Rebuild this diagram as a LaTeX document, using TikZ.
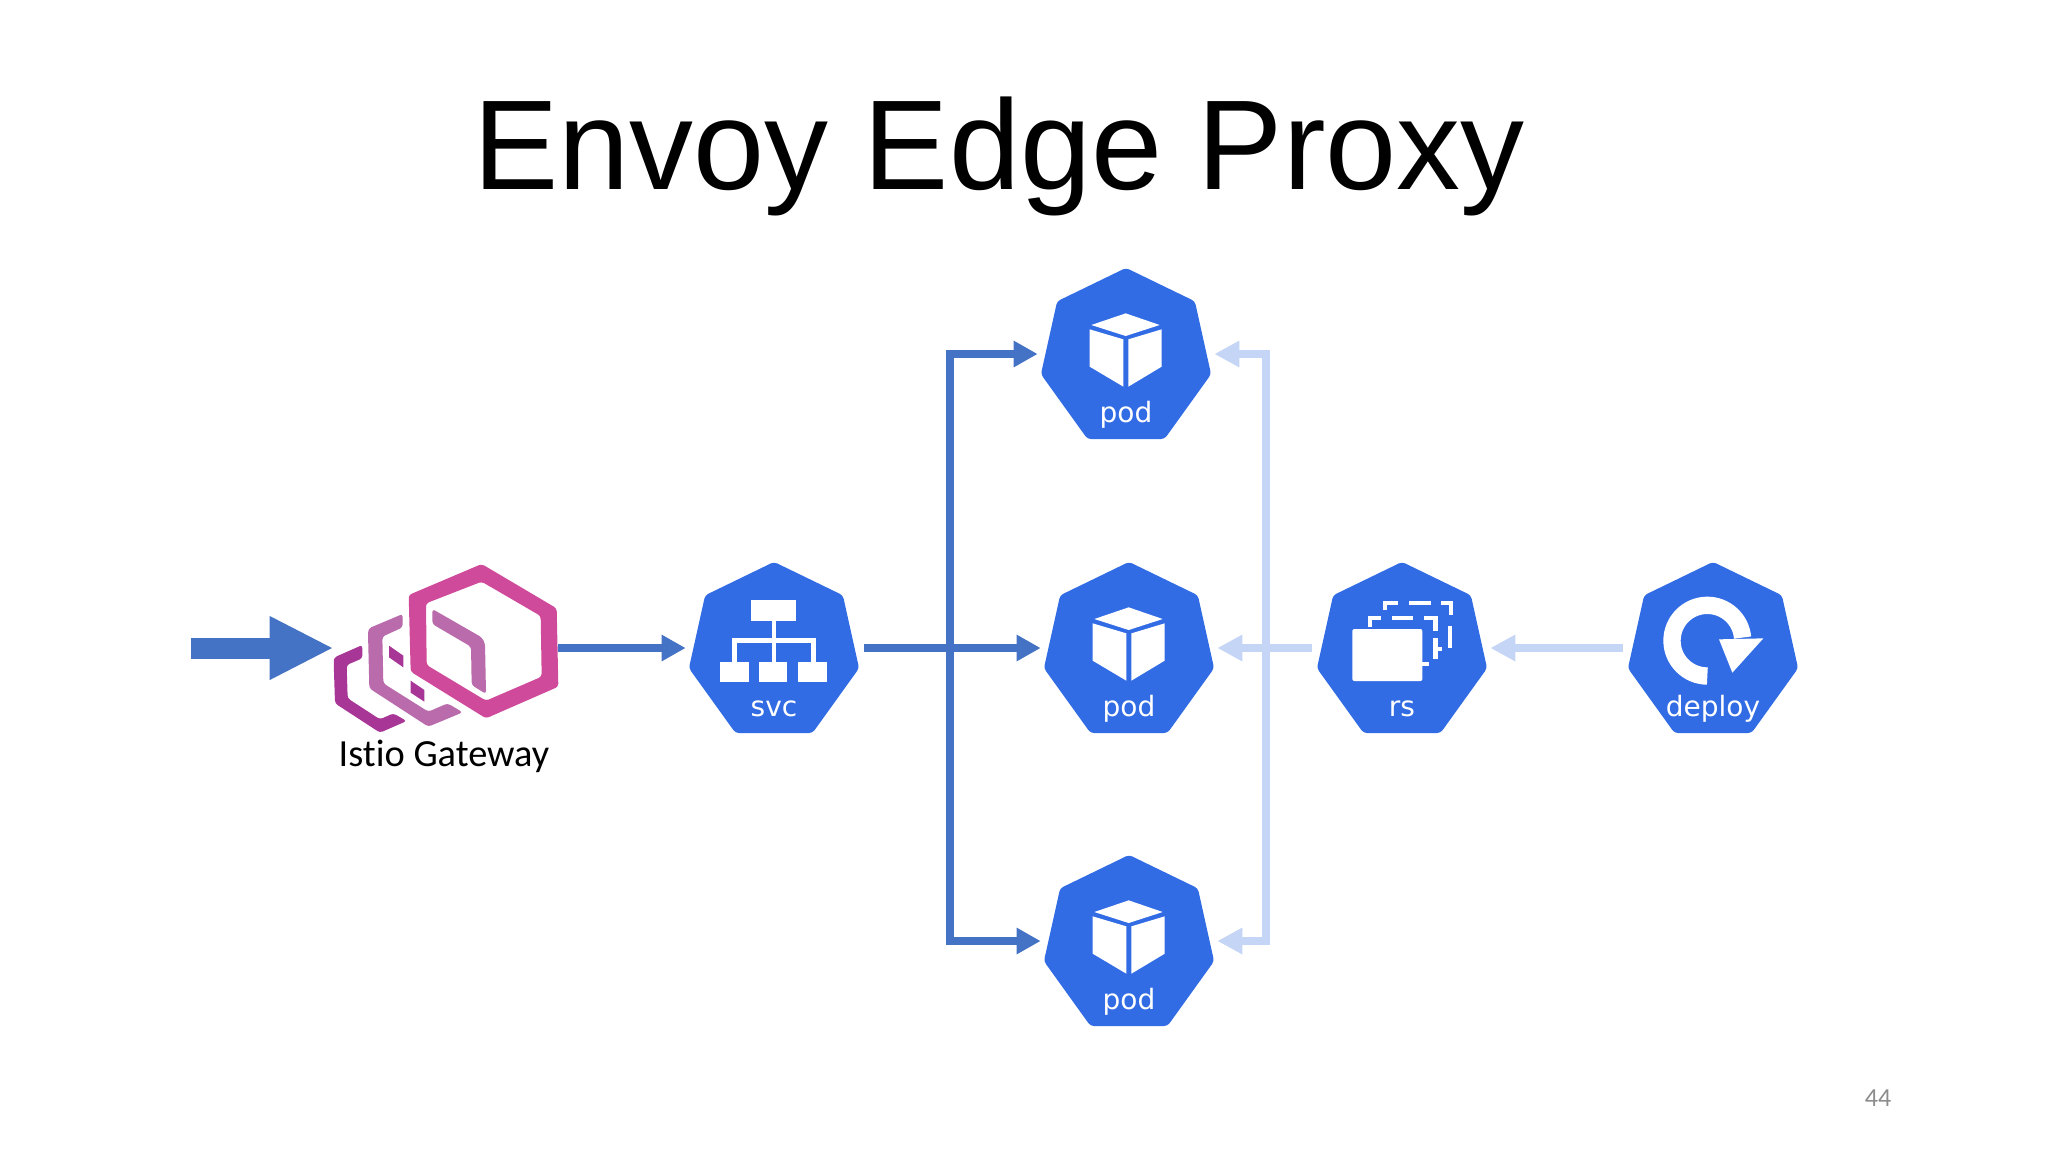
\documentclass[tikz,border=0pt]{standalone}
\usepackage{fontspec}
\setmainfont{Liberation Sans}
\newfontfamily\calibrilike[Ligatures=NoCommon]{Carlito}
\newfontfamily\kubefont{DejaVu Sans}
\usetikzlibrary{arrows.meta}
\definecolor{kubeblue}{HTML}{326CE5}
\definecolor{arrowblue}{HTML}{4472C4}
\definecolor{paleblue}{HTML}{C5D5F5}
\definecolor{envoyfront}{HTML}{CF4A9B}
\definecolor{envoymid}{HTML}{B96BAB}
\definecolor{envoyback}{HTML}{A83696}
\tikzset{
  hept/.style={fill=kubeblue,draw=kubeblue,line width=1pt,rounded corners=1.5pt},
  kubebox/.style={rectangle,minimum width=90pt,minimum height=85pt,inner sep=0pt},
  kubelabel/.style={text=white,font=\kubefont\fontsize{14pt}{16pt}\selectfont,anchor=base,inner sep=0pt},
  darkarrow/.style={draw=arrowblue,line width=4pt,shorten >=-1pt,-{Triangle[length=12pt,width=12.5pt]}},
  palearrow/.style={draw=paleblue,line width=4pt,shorten >=-1pt,-{Triangle[length=12.5pt,width=12.5pt]}},
  zoomed/.style={x=0.16667pt,y=-0.16667pt},
  iconline/.style={draw=white,line width=2.15pt},
}
\newcommand{\kubeicon}[5]{%
  \begin{scope}[shift={(#2,#3)}]
    \path[hept] (0,-85)--(68,-52)--(84,20)--(38,84)--(-38,84)--(-84,20)--(-68,-52)--cycle;
    \node[kubebox] (#1) at (0,0) {};
    \node[kubelabel] (#1-label) at (0,68) {#4};
    #5
  \end{scope}}
\newcommand{\cubeicon}{%
  \begin{scope}[zoomed,shift={(-291,-312)}]
    \fill[white] (290,190)--(392,225)--(290,258)--(187,225)--cycle;
    \fill[white] (182,238)--(283,268)--(283,410)--(182,350)--cycle;
    \fill[white] (298,268)--(398,238)--(398,350)--(298,410)--cycle;
  \end{scope}}
\newcommand{\svcicon}{%
  \begin{scope}[zoomed,shift={(-312,-294)}]
    \fill[white] (242,150) rectangle (378,212);
    \fill[white] (305,212) rectangle (319,335);
    \fill[white] (187,265) rectangle (437,280);
    \fill[white] (187,265) rectangle (200,335);
    \fill[white] (423,265) rectangle (437,335);
    \fill[white] (150,335) rectangle (236,397);
    \fill[white] (268,335) rectangle (352,397);
    \fill[white] (385,335) rectangle (470,397);
  \end{scope}}
\newcommand{\rsicon}{%
  \begin{scope}[zoomed,shift={(-306,-294)}]
    \fill[white,rounded corners=1pt] (157,237) rectangle (367,393);
    \draw[iconline] (255,180)--(255,158)--(295,158);
    \draw[iconline] (328,158)--(392,158);
    \draw[iconline] (423,158)--(452,158)--(452,195);
    \draw[iconline] (450,228)--(450,293);
    \draw[iconline] (210,232)--(210,203)--(243,203);
    \draw[iconline] (277,203)--(338,203);
    \draw[iconline] (372,203)--(406,203)--(406,242);
    \draw[iconline] (406,265)--(406,328);
    \draw[iconline] (406,297)--(425,297);
    \draw[iconline] (367,343)--(386,343);
  \end{scope}}
\newcommand{\deployicon}{%
  \draw[draw=white,line width=8.67pt] (-5.67,28) arc[start angle=-90,end angle=-355,radius=17.67pt];
  \begin{scope}[zoomed,shift={(-1239,-294)}]
    \fill[white] (1257,268)--(1390,265)--(1297,368)--cycle;
  \end{scope}}
\begin{document}
\begin{tikzpicture}[x=0.5pt,y=-0.5pt]
  \useasboundingbox (0,0) rectangle (2048,1152);
  \fill[white] (0,0) rectangle (2048,1152);

  \node[font=\fontsize{63.9pt}{70pt}\selectfont,anchor=base,inner sep=0pt] (title) at (999,189) {Envoy Edge Proxy};
  \node[font=\calibrilike\fontsize{13pt}{15pt}\selectfont,text=black!45,inner sep=0pt] (pagenum) at (1878,1098) {44};

  % Envoy logo
  \begin{scope}[shift={(170,540)},zoomed,rounded corners=1.5pt]
    \fill[envoyback] (577,315)--(493,352)--(491,365)--(495,490)--(630,578)--(710,543)--(670,520)--(630,538)--(533,475)--(530,375)--(577,355)--cycle;
    \fill[envoymid] (698,222)--(596,265)--(594,280)--(598,445)--(775,560)--(878,517)--(833,490)--(775,515)--(640,430)--(637,290)--(698,262)--cycle;
    \fill[envoyback,rounded corners=0pt] (657,317)--(700,347)--(700,382)--(657,352)--cycle;
    \fill[envoyback,rounded corners=0pt] (722,422)--(763,450)--(763,485)--(722,458)--cycle;
    \fill[envoyfront,even odd rule] (935,72)--(1160,205)--(1165,440)--(948,535)--(722,395)--(716,165)--cycle
       (935,125)--(1112,228)--(1115,410)--(948,482)--(770,375)--(768,190)--cycle;
    \fill[envoymid] (787,207)--(935,292)--(945,310)--(948,462)--(905,435)--(903,320)--(787,252)--cycle;
  \end{scope}
  \node[inner sep=0pt,minimum width=113pt,minimum height=60pt] (gateway) at (445,648) {};
  \node[font=\calibrilike\fontsize{19.2pt}{21pt}\selectfont,anchor=base,inner sep=0pt] (gatewaylabel) at (444,766) {Istio Gateway};

  \kubeicon{svc}{774}{648}{svc}{\svcicon}
  \kubeicon{pod1}{1126}{354}{pod}{\cubeicon}
  \kubeicon{pod2}{1129}{648}{pod}{\cubeicon}
  \kubeicon{pod3}{1129}{941}{pod}{\cubeicon}
  \kubeicon{rs}{1402}{648}{rs}{\rsicon}
  \kubeicon{deploy}{1713}{648}{deploy}{\deployicon}

  \coordinate (inlet) at (191,648);
  \coordinate (darktrunk) at (950,648);
  \coordinate (paletrunk) at (1266,648);

  \draw[draw=arrowblue,line width=10.5pt,shorten >=-1pt,-{Triangle[length=32pt,width=29.5pt]}] (inlet) -- (gateway.west);
  \draw[darkarrow] (gateway.east) -- (svc.west);
  \draw[darkarrow] (svc.east) -- (pod2.west);
  \draw[darkarrow] (darktrunk) |- (pod1.west);
  \draw[darkarrow] (darktrunk) |- (pod3.west);
  \draw[palearrow] (deploy.west) -- (rs.east);
  \draw[palearrow] (rs.west) -- (pod2.east);
  \draw[palearrow] (paletrunk) |- (pod1.east);
  \draw[palearrow] (paletrunk) |- (pod3.east);
\end{tikzpicture}
\end{document}
